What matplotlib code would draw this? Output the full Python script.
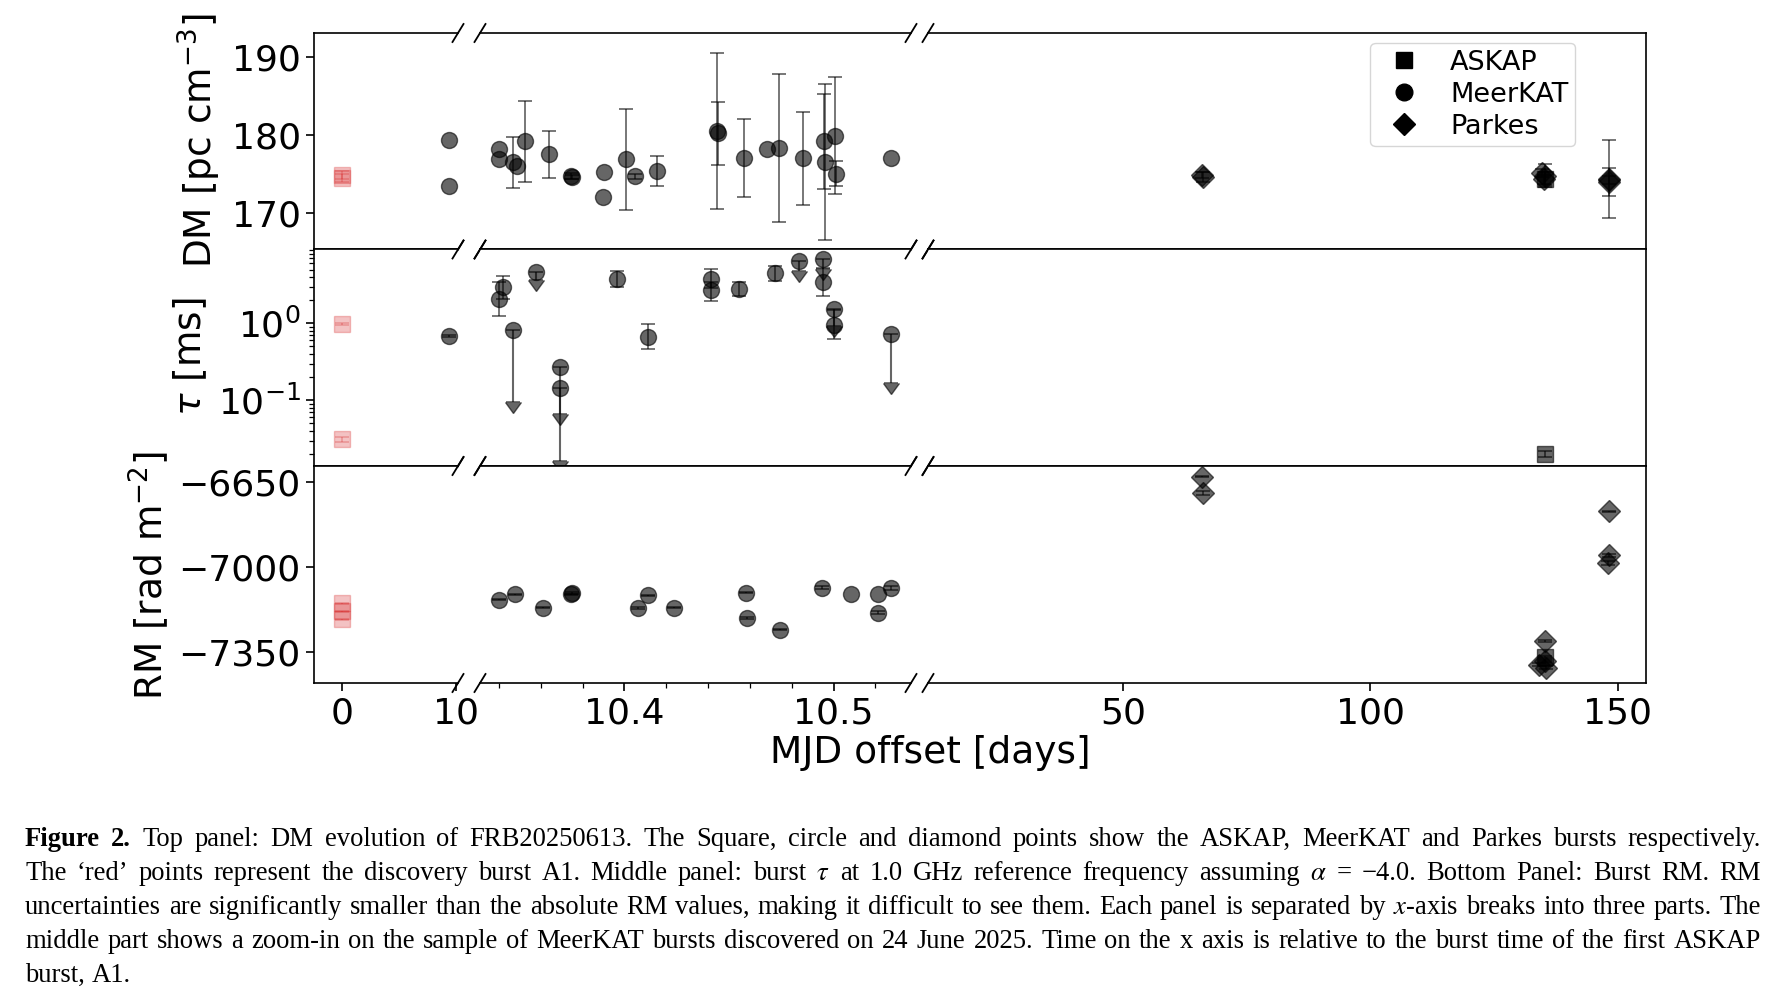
import numpy as np
import matplotlib
matplotlib.use("Agg")
import matplotlib.pyplot as plt
from matplotlib.lines import Line2D, CARETDOWNBASE
from matplotlib.ticker import MultipleLocator, NullLocator

nan = np.nan

# ---------------- data (MJD offset in days) ----------------
# ASKAP discovery burst A1 (red)
a1_dm_t = [0.0, 0.0]
a1_dm = [174.9, 174.5]
a1_dm_err = [0.5, 0.5]
a1_tau_t = [0.0, 0.0]
a1_tau = [0.98, 0.031]
a1_tau_err = [0.03, 0.002]
a1_rm_t = [0.0, 0.0, 0.0]
a1_rm = [-7150, -7183, -7216]
a1_rm_err = [2, 2, 2]

# later ASKAP burst
ask_dm_t = [135.3]
ask_dm = [174.4]
ask_dm_err = [0.8]
ask_tau_t = [135.3]
ask_tau = [0.0201]
ask_tau_err = [0.002]
ask_rm_t = [135.3]
ask_rm = [-7370]
ask_rm_err = [3]

# MeerKAT bursts
mk_dm_t = [9.41, 9.40, 10.3403, 10.3403, 10.3467, 10.3488, 10.3526, 10.3638, 10.3746,
           10.3748, 10.3896, 10.3905, 10.4008, 10.4051, 10.4156, 10.4444, 10.4446,
           10.4573, 10.4681, 10.4740, 10.4852, 10.4956, 10.4958, 10.5009, 10.5011, 10.5275]
mk_dm = [179.3, 173.4, 178.2, 176.9, 176.5, 176.0, 179.2, 177.5, 174.7, 174.6, 172.1,
         175.3, 176.9, 174.7, 175.4, 180.5, 180.2, 177.1, 178.2, 178.3, 177.0, 179.2,
         176.5, 179.9, 175.0, 177.0]
mk_dm_err = [nan, nan, nan, nan, 3.3, nan, 5.2, 3.0, 0.4, 0.3, nan, nan, 6.5, 0.3, 1.9,
             10.0, 4.0, 5.0, nan, 9.5, 6.0, 6.1, 10.0, 7.5, 1.6, nan]

mk_tau_t = [9.40, 10.3403, 10.3421, 10.3966, 10.4114, 10.4412, 10.4412, 10.4548, 10.4719,
            10.4948, 10.5003]
mk_tau = [0.687, 2.1, 2.93, 3.78, 0.667, 3.78, 2.7, 2.79, 4.49, 3.41, 0.96]
mk_tau_lo = [0.67, 1.26, 2.1, 2.99, 0.467, 2.9, 1.93, 2.25, 3.55, 2.27, 0.634]
mk_tau_hi = [0.705, 3.48, 4.06, 4.72, 0.98, 5.07, 3.4, 3.48, 5.5, 5.23, 1.47]

mk_taulim_t = [10.3467, 10.358, 10.369, 10.369, 10.4835, 10.4948, 10.5003, 10.5275]
mk_taulim = [0.816, 4.58, 0.267, 0.143, 6.53, 6.94, 1.55, 0.737]
mk_taulim_to = [0.095, 3.66, 0.0667, 0.0161, 4.72, 5.1, 0.93, 0.166]

mk_rm_t = [10.3403, 10.3477, 10.3611, 10.3746, 10.3748, 10.4063, 10.4114, 10.4237,
           10.4582, 10.4588, 10.4744, 10.4943, 10.5081, 10.5214, 10.5214, 10.5275]
mk_rm = [-7134, -7113, -7168, -7113, -7108, -7168, -7117, -7168, -7106, -7209, -7258,
         -7085, -7110, -7110, -7189, -7085]
mk_rm_err = [2, 2, 3, 3, 3, 5, 3, 2, 2, 4, 2, 6, nan, nan, 6, 8]

# Parkes bursts
pk_dm_t = [66.0, 66.1, 134.7, 135.3, 135.0, 148.2, 148.2, 148.3]
pk_dm = [174.9, 174.6, 175.1, 174.8, 174.3, 174.3, 174.0, 174.2]
pk_dm_err = [0.4, 0.6, 0.5, 1.5, 0.6, 5.0, 1.8, 0.5]
pk_rm_t = [66.0, 66.1, 135.3, 134.0, 135.5, 135.2, 148.2, 148.2, 148.1]
pk_rm = [-6628, -6697, -7306, -7402, -7416, -7389, -6771, -6952, -6982]
pk_rm_err = [3, 8, 5, 6, 6, 4, 3, 6, 8]

# axis settings
seg_xlims = [(-2.5, 10.2), (10.331, 10.537), (10.6, 155.7)]
seg_xticks = [[0, 10], [10.4, 10.5], [50, 100, 150]]
seg_xticklabels = [["0", "10"], ["10.4", "10.5"], ["50", "100", "150"]]
dm_ylim = (165.3, 193.1)
dm_ticks = [170, 180, 190]
tau_ylim = (0.014, 9.1)
rm_ylim = (-7478, -6584)
rm_ticks = [-7350, -7000, -6650]
row_labels = ["DM [pc cm$^{-3}$]", r"$\tau$ [ms]", "RM [rad m$^{-2}$]"]

caption = [
    "Figure 2. Top panel: DM evolution of FRB20250613. The Square, circle and diamond points show the ASKAP, MeerKAT and Parkes bursts respectively.",
    "The \u2018red\u2019 points represent the discovery burst A1. Middle panel: burst $\\tau$ at 1.0 GHz reference frequency assuming $\\alpha$ = \u22124.0. Bottom Panel: Burst RM. RM",
    "uncertainties are significantly smaller than the absolute RM values, making it difficult to see them. Each panel is separated by $x$-axis breaks into three parts. The",
    "middle part shows a zoom-in on the sample of MeerKAT bursts discovered on 24 June 2025. Time on the x axis is relative to the burst time of the first ASKAP",
    "burst, A1.",
]

# ---------------- figure ----------------
W, H = 1770, 1005
fig = plt.figure(figsize=(W / 100, H / 100), dpi=100)

cols_px = [(314, 458), (480, 911), (928, 1646)]
rows_px = [(33, 249.5), (249.5, 466), (466, 683)]

GA = 0.6        # alpha of grey points
RA = 0.28       # alpha of red points
MS = 11.5
ELW = 1.25


def inside(ax, t):
    lo, hi = ax.get_xlim()
    return (t >= lo) & (t <= hi)


def pts(ax, t, y, err, marker, color, alpha, lo=None, hi=None):
    t = np.asarray(t, float)
    y = np.asarray(y, float)
    k = inside(ax, t)
    if not k.any():
        return
    ax.plot(t[k], y[k], ls='none', marker=marker, ms=MS, color=color, alpha=alpha, mew=1.0)
    if lo is not None:
        lo = np.asarray(lo, float)[k]
        hi = np.asarray(hi, float)[k]
        ax.errorbar(t[k], y[k], yerr=[y[k] - lo, hi - y[k]], fmt='none', ecolor=color,
                    alpha=alpha, capsize=5, elinewidth=ELW, capthick=ELW)
        return
    err = np.asarray(err, float)
    m = k & ~np.isnan(err)
    if m.any():
        ax.errorbar(t[m], y[m], yerr=err[m], fmt='none', ecolor=color, alpha=alpha,
                    capsize=5, elinewidth=ELW, capthick=ELW)


def limits(ax, t, y, to):
    t = np.asarray(t, float)
    k = inside(ax, t)
    if not k.any():
        return
    t = t[k]
    y = np.asarray(y, float)[k]
    to = np.asarray(to, float)[k]
    ax.plot(t, y, ls='none', marker='o', ms=MS, color='k', alpha=GA, mew=1.0)
    ax.errorbar(t, y, yerr=[y - to, np.zeros_like(y)], fmt='none', ecolor='k', alpha=GA,
                capsize=5, elinewidth=ELW + 0.25, capthick=ELW)
    ax.plot(t, to, ls='none', marker=CARETDOWNBASE, ms=11, color='k', alpha=GA)


def brk(ax, side):
    bb = ax.get_position()
    dx = 5.5 / (bb.width * W)
    dy = 9.0 / (bb.height * H)
    x = 0 if side == 'left' else 1
    for y in (0, 1):
        ax.plot([x - dx, x + dx], [y - dy, y + dy], transform=ax.transAxes,
                color='k', lw=1.3, clip_on=False)


axes = {}
for r, (y0, y1) in enumerate(rows_px):
    for c, (x0, x1) in enumerate(cols_px):
        ax = fig.add_axes([x0 / W, 1 - y1 / H, (x1 - x0) / W, (y1 - y0) / H])
        axes[(r, c)] = ax
        ax.set_xlim(*seg_xlims[c])
        if r == 0:
            pts(ax, a1_dm_t, a1_dm, a1_dm_err, 's', 'tab:red', RA)
            pts(ax, mk_dm_t, mk_dm, mk_dm_err, 'o', 'k', GA)
            pts(ax, pk_dm_t, pk_dm, pk_dm_err, 'D', 'k', GA)
            pts(ax, ask_dm_t, ask_dm, ask_dm_err, 's', 'k', GA)
            ax.set_ylim(*dm_ylim)
            ax.set_yticks(dm_ticks)
        elif r == 1:
            ax.set_yscale('log')
            pts(ax, a1_tau_t, a1_tau, a1_tau_err, 's', 'tab:red', RA)
            pts(ax, mk_tau_t, mk_tau, None, 'o', 'k', GA, lo=mk_tau_lo, hi=mk_tau_hi)
            limits(ax, mk_taulim_t, mk_taulim, mk_taulim_to)
            pts(ax, ask_tau_t, ask_tau, ask_tau_err, 's', 'k', GA)
            ax.set_ylim(*tau_ylim)
        else:
            pts(ax, a1_rm_t, a1_rm, a1_rm_err, 's', 'tab:red', RA)
            pts(ax, mk_rm_t, mk_rm, mk_rm_err, 'o', 'k', GA)
            pts(ax, pk_rm_t, pk_rm, pk_rm_err, 'D', 'k', GA)
            pts(ax, ask_rm_t, ask_rm, ask_rm_err, 's', 'k', GA)
            ax.set_ylim(*rm_ylim)
            ax.set_yticks(rm_ticks)
        ax.set_xlim(*seg_xlims[c])
        for s in ax.spines.values():
            s.set_linewidth(1.2)
        if c > 0:
            ax.spines['left'].set_visible(False)
            ax.tick_params(axis='y', which='both', left=False, labelleft=False)
        if c < 2:
            ax.spines['right'].set_visible(False)
        if c == 0:
            ax.tick_params(axis='y', which='major', labelsize=26, length=6, width=1.2)
            ax.tick_params(axis='y', which='minor', length=3.5, width=0.9)
        if r < 2:
            ax.tick_params(axis='x', which='both', bottom=False, labelbottom=False)
            ax.xaxis.set_minor_locator(NullLocator())
        else:
            ax.set_xticks(seg_xticks[c], seg_xticklabels[c])
            if c == 1:
                ax.xaxis.set_minor_locator(MultipleLocator(0.02))
            else:
                ax.xaxis.set_minor_locator(NullLocator())
            ax.tick_params(axis='x', which='major', labelsize=26, length=6, width=1.2)
            ax.tick_params(axis='x', which='minor', length=3.5, width=0.9)
        if c > 0:
            brk(ax, 'left')
        if c < 2:
            brk(ax, 'right')

# y labels
for txt, (xc, yc) in zip(row_labels, [(199, 141), (190, 357), (149, 575)]):
    fig.text(xc / W, 1 - yc / H, txt, rotation=90, ha='center', va='center', fontsize=27)

fig.text(930 / W, 1 - 753 / H, "MJD offset [days]", ha='center', va='center', fontsize=27)

# legend
handles = [Line2D([], [], ls='none', marker='s', color='k', ms=12),
           Line2D([], [], ls='none', marker='o', color='k', ms=12),
           Line2D([], [], ls='none', marker='D', color='k', ms=11)]
axes[(0, 2)].legend(handles, ["ASKAP", "MeerKAT", "Parkes"], loc='upper right',
                    bbox_to_anchor=(1575 / W, 1 - 43 / H), bbox_transform=fig.transFigure,
                    borderaxespad=0, fontsize=19.5, labelspacing=0.22, handletextpad=0.7,
                    borderpad=0.25)

# caption (justified)
renderer = fig.canvas.get_renderer()
cap_x0, cap_x1 = 25, 1761
cap_base = [846, 880, 914, 948, 982]


def build_caption(fs):
    arts = []
    sp_a = fig.text(0, 0, "a a", fontsize=fs, family='Liberation Serif')
    sp_b = fig.text(0, 0, "aa", fontsize=fs, family='Liberation Serif')
    sp = sp_a.get_window_extent(renderer).width - sp_b.get_window_extent(renderer).width
    sp_a.remove(); sp_b.remove()
    worst = 0
    lines = []
    for li, line in enumerate(caption):
        words = line.split(' ')
        ts = []
        for wi, w in enumerate(words):
            bold = (li == 0 and wi < 2)
            t = fig.text(0, 0, w, fontsize=fs, family='Liberation Serif',
                         fontweight='bold' if bold else 'normal', math_fontfamily='stix',
                         ha='left', va='baseline')
            ts.append(t)
        widths = [t.get_window_extent(renderer).width for t in ts]
        nat = sum(widths) + sp * (len(ts) - 1)
        if li < len(caption) - 1:
            worst = max(worst, nat / (cap_x1 - cap_x0))
        lines.append((ts, widths))
        arts.extend(ts)
    return arts, lines, sp, worst


fs = 20.0
arts, lines, sp, worst = build_caption(fs)
if worst > 0.985:
    for a in arts:
        a.remove()
    fs = fs * 0.985 / worst
    arts, lines, sp, worst = build_caption(fs)

for li, (ts, widths) in enumerate(lines):
    if li < len(lines) - 1:
        gap = (cap_x1 - cap_x0 - sum(widths)) / (len(ts) - 1)
    else:
        gap = sp
    x = cap_x0
    for t, w in zip(ts, widths):
        t.set_position((x / W, 1 - cap_base[li] / H))
        x += w + gap

fig.savefig("out.png", dpi=100)
